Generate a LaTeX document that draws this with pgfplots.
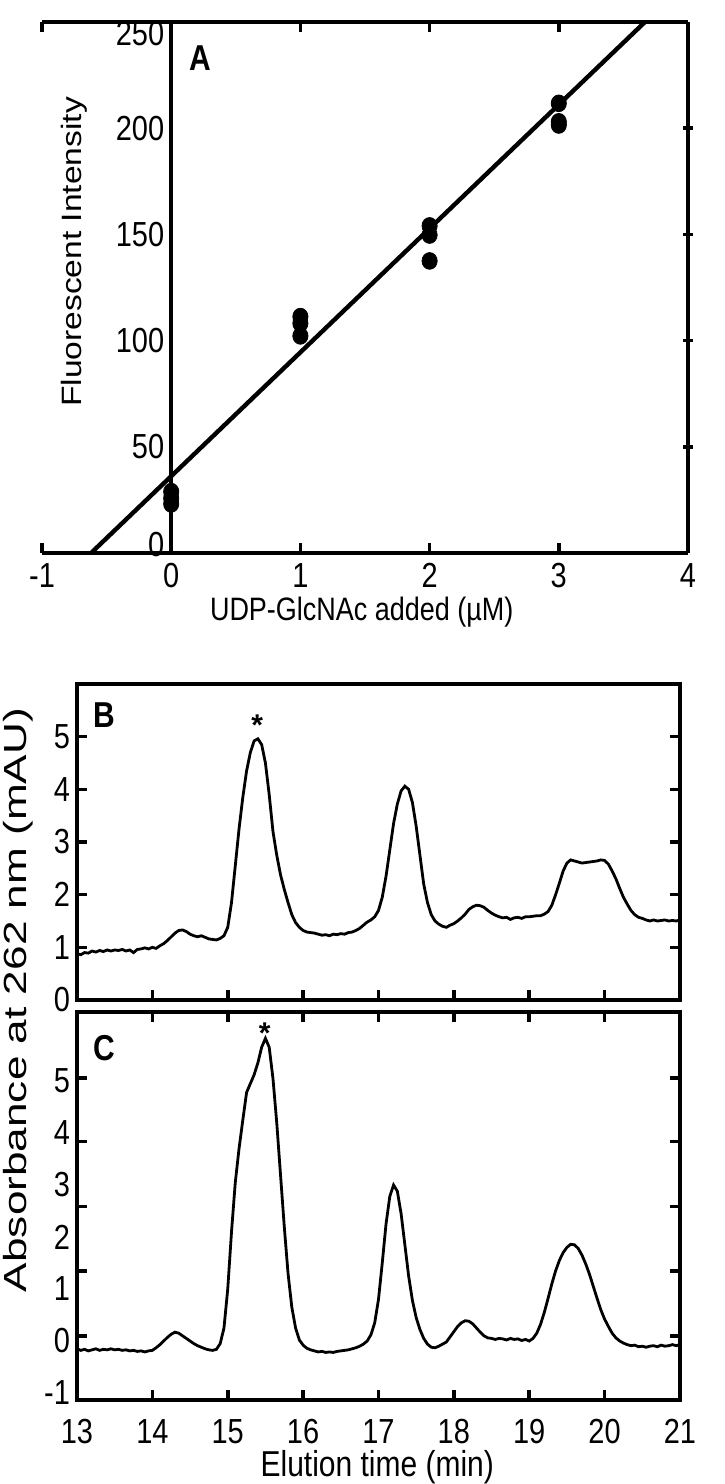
\documentclass[border=0pt]{standalone}
\usepackage{fontspec}
\setmainfont{Liberation Sans}
\newfontfamily\tallfont[FakeStretch=0.833]{Liberation Sans}
\usepackage{pgfplots}
\usepackage{pgfplotstable}
\pgfplotsset{compat=1.18}

\pgfplotstableread{
x y
0 28.9
0 25.8
0 23.1
1 111.3
1 108.1
1 102.2
2 154.0
2 149.7
2 137.5
3 211.7
3 203.0
3 201.5
}\pointsA

\pgfplotstableread{
x y
13.00 0.88
13.05 0.86
13.10 0.90
13.15 0.89
13.20 0.93
13.25 0.91
13.30 0.94
13.35 0.92
13.40 0.95
13.45 0.93
13.50 0.95
13.55 0.94
13.60 0.96
13.65 0.93
13.70 0.95
13.75 0.90
13.80 0.96
13.85 0.97
13.90 0.99
13.95 0.97
14.00 1.00
14.05 0.98
14.10 1.03
14.15 1.07
14.20 1.13
14.25 1.20
14.30 1.27
14.35 1.32
14.40 1.33
14.45 1.30
14.50 1.25
14.55 1.22
14.60 1.20
14.65 1.22
14.70 1.19
14.75 1.16
14.80 1.15
14.85 1.14
14.90 1.17
14.95 1.22
15.00 1.38
15.05 1.85
15.10 2.55
15.15 3.25
15.20 3.85
15.25 4.35
15.30 4.70
15.35 4.92
15.40 4.96
15.45 4.85
15.50 4.50
15.55 3.90
15.60 3.20
15.65 2.75
15.70 2.38
15.75 2.10
15.80 1.85
15.85 1.62
15.90 1.47
15.95 1.38
16.00 1.32
16.05 1.29
16.10 1.28
16.15 1.27
16.20 1.25
16.25 1.23
16.30 1.24
16.35 1.22
16.40 1.25
16.45 1.24
16.50 1.26
16.55 1.25
16.60 1.28
16.65 1.29
16.70 1.32
16.75 1.36
16.80 1.42
16.85 1.48
16.90 1.52
16.95 1.58
17.00 1.70
17.05 1.95
17.10 2.35
17.15 2.85
17.20 3.35
17.25 3.72
17.30 3.97
17.35 4.06
17.40 4.00
17.45 3.75
17.50 3.30
17.55 2.75
17.60 2.20
17.65 1.85
17.70 1.62
17.75 1.50
17.80 1.44
17.85 1.40
17.90 1.38
17.95 1.42
18.00 1.45
18.05 1.50
18.10 1.56
18.15 1.63
18.20 1.72
18.25 1.77
18.30 1.80
18.35 1.79
18.40 1.76
18.45 1.70
18.50 1.65
18.55 1.61
18.60 1.58
18.65 1.56
18.70 1.57
18.75 1.53
18.80 1.56
18.85 1.57
18.90 1.55
18.95 1.58
19.00 1.58
19.05 1.59
19.10 1.60
19.15 1.60
19.20 1.63
19.25 1.68
19.30 1.80
19.35 2.00
19.40 2.22
19.45 2.45
19.50 2.60
19.55 2.66
19.60 2.64
19.65 2.62
19.70 2.60
19.75 2.61
19.80 2.62
19.85 2.63
19.90 2.64
19.95 2.66
20.00 2.65
20.05 2.58
20.10 2.45
20.15 2.30
20.20 2.12
20.25 1.95
20.30 1.82
20.35 1.70
20.40 1.62
20.45 1.57
20.50 1.55
20.55 1.52
20.60 1.50
20.65 1.52
20.70 1.50
20.75 1.51
20.80 1.52
20.85 1.50
20.90 1.51
20.95 1.50
21.00 1.52
}\traceB

\pgfplotstableread{
x y
13.00 -0.15
13.05 -0.18
13.10 -0.16
13.15 -0.19
13.20 -0.17
13.25 -0.15
13.30 -0.18
13.35 -0.16
13.40 -0.17
13.45 -0.15
13.50 -0.17
13.55 -0.16
13.60 -0.18
13.65 -0.17
13.70 -0.19
13.75 -0.18
13.80 -0.20
13.85 -0.19
13.90 -0.21
13.95 -0.19
14.00 -0.18
14.05 -0.13
14.10 -0.07
14.15 0.00
14.20 0.07
14.25 0.13
14.30 0.17
14.35 0.15
14.40 0.10
14.45 0.05
14.50 0.00
14.55 -0.05
14.60 -0.09
14.65 -0.12
14.70 -0.15
14.75 -0.17
14.80 -0.18
14.85 -0.16
14.90 -0.05
14.95 0.25
15.00 1.00
15.05 2.10
15.10 3.05
15.15 3.70
15.20 4.25
15.25 4.78
15.30 4.95
15.35 5.12
15.40 5.35
15.45 5.65
15.50 5.82
15.55 5.65
15.60 5.05
15.65 4.20
15.70 3.20
15.75 2.20
15.80 1.30
15.85 0.65
15.90 0.25
15.95 0.02
16.00 -0.08
16.05 -0.14
16.10 -0.17
16.15 -0.19
16.20 -0.21
16.25 -0.20
16.30 -0.22
16.35 -0.21
16.40 -0.22
16.45 -0.20
16.50 -0.19
16.55 -0.18
16.60 -0.17
16.65 -0.15
16.70 -0.13
16.75 -0.10
16.80 -0.06
16.85 0.00
16.90 0.12
16.95 0.35
17.00 0.80
17.05 1.50
17.10 2.25
17.15 2.78
17.20 3.00
17.25 2.88
17.30 2.45
17.35 1.85
17.40 1.25
17.45 0.78
17.50 0.45
17.55 0.22
17.60 0.05
17.65 -0.06
17.70 -0.12
17.75 -0.13
17.80 -0.10
17.85 -0.06
17.90 -0.02
17.95 0.08
18.00 0.18
18.05 0.28
18.10 0.35
18.15 0.39
18.20 0.38
18.25 0.33
18.30 0.25
18.35 0.17
18.40 0.10
18.45 0.06
18.50 0.05
18.55 0.03
18.60 0.05
18.65 0.04
18.70 0.02
18.75 0.05
18.80 0.03
18.85 0.04
18.90 0.01
18.95 0.03
19.00 0.00
19.05 0.05
19.10 0.15
19.15 0.32
19.20 0.55
19.25 0.82
19.30 1.10
19.35 1.35
19.40 1.55
19.45 1.70
19.50 1.80
19.55 1.86
19.60 1.85
19.65 1.78
19.70 1.65
19.75 1.48
19.80 1.28
19.85 1.05
19.90 0.82
19.95 0.60
20.00 0.42
20.05 0.28
20.10 0.15
20.15 0.06
20.20 0.00
20.25 -0.04
20.30 -0.07
20.35 -0.09
20.40 -0.08
20.45 -0.11
20.50 -0.10
20.55 -0.12
20.60 -0.10
20.65 -0.09
20.70 -0.11
20.75 -0.08
20.80 -0.10
20.85 -0.09
20.90 -0.07
20.95 -0.09
21.00 -0.07
}\traceC

\pgfplotsset{
  common/.style={
    scale only axis, anchor=south west,
    tick align=inside, major tick length=5pt,
    axis line style={-, line width=1.8pt},
    every outer x axis line/.append style={-},
    every outer y axis line/.append style={-},
    every inner x axis line/.append style={-},
    every inner y axis line/.append style={-},
    tick style={line width=1.8pt, black},
    /pgf/number format/assume math mode=true,
    ticklabel style={font=\tallfont\fontsize{17.4}{18}\selectfont},
  },
}

\begin{document}
\begin{tikzpicture}
\useasboundingbox (0,0) rectangle (362pt,742pt);

% ---------- Panel A : frame, x axis, right axis, data ----------
\begin{axis}[common,
  at={(21pt,465.5pt)}, width=323pt, height=265.5pt,
  xmin=-1, xmax=4, ymin=0, ymax=250,
  axis x line=box, axis y line=right,
  y axis line style={-},
  xtick={-1,0,1,2,3,4}, xtick pos=both, xticklabel pos=bottom,
  ytick={50,100,150,200}, yticklabels={},
  xticklabel style={yshift=-1.5pt},
  xlabel={UDP-GlcNAc added (µM)},
  every axis x label/.style={at={(axis description cs:0.495,-0.111)}, anchor=center, font=\tallfont\fontsize{16.2}{17}\selectfont},
]
\addplot[line width=2.2pt] coordinates {(-0.62,0) (3.667,250)};
\addplot[only marks, mark=*, mark size=3.8pt, mark options={yscale=1.1}] table {\pointsA};
\end{axis}

% ---------- Panel A : y axis at x = 0 with labels ----------
\begin{axis}[common,
  at={(21pt,465.5pt)}, width=323pt, height=265.5pt,
  xmin=-1, xmax=4, ymin=0, ymax=250,
  axis x line=none, axis y line=middle,
  y axis line style={-, line width=1.8pt},
  major tick length=0pt,
  ytick={0,50,100,150,200,250},
  yticklabels={{\raisebox{0pt}[\height][\dimexpr\depth+8pt\relax]{0}},50,100,150,200,{\raisebox{0pt}[\dimexpr\height+12pt\relax][\depth]{250}}},
  yticklabel style={anchor=east},
  ylabel={\scalebox{1.2}[1]{Fluorescent Intensity}},
  every axis y label/.style={at={(axis description cs:0.0495,0.567)}, rotate=90, anchor=center, font=\fontsize{14}{14}\selectfont},
]
\node[font=\tallfont\bfseries\fontsize{18}{18}\selectfont] at (axis description cs:0.2446,0.932) {A};
\end{axis}

% ---------- Panel B ----------
\begin{axis}[common,
  at={(38.5pt,242pt)}, width=301.5pt, height=158pt,
  xmin=13, xmax=21, ymin=0, ymax=6,
  xtick={14,...,20}, xtick pos=bottom, xticklabels={},
  ytick={0,...,5}, ytick pos=both, yticklabel pos=left,
]
\addplot[line width=1.4pt] table {\traceB};
\node[font=\tallfont\bfseries\fontsize{18}{18}\selectfont] at (axis description cs:0.046,0.902) {B};
\node[font=\bfseries\fontsize{15}{15}\selectfont, anchor=base] at (axis cs:15.39,5.02) {*};
\end{axis}

% ---------- Panel C : frame, ticks, data ----------
\begin{axis}[common,
  at={(38.5pt,42pt)}, width=301.5pt, height=194pt,
  xmin=13, xmax=21, ymin=-1.1346, ymax=6.327,
  xtick={13,...,21}, xtick pos=both, xticklabel pos=bottom,
  xticklabel style={yshift=-6pt},
  ytick={0.096,1.346,2.587,3.833,5.063}, yticklabels={}, ytick pos=both,
  xlabel={Elution time (min)},
  every axis x label/.style={at={(axis description cs:0.498,-0.172)}, anchor=center, font=\tallfont\fontsize{18}{18}\selectfont},
  ylabel={\scalebox{1.38}[1]{Absorbance at 262 nm (mAU)}},
  every axis y label/.style={at={(axis description cs:-0.0977,1.031)}, rotate=90, anchor=center, font=\fontsize{16}{16}\selectfont},
]
\addplot[line width=1.4pt] table {\traceC};
\node[font=\tallfont\bfseries\fontsize{18}{18}\selectfont] at (axis description cs:0.046,0.907) {C};
\node[font=\bfseries\fontsize{15}{15}\selectfont, anchor=base] at (axis cs:15.49,5.72) {*};
\end{axis}

% ---------- Panel C : y tick labels ----------
\begin{axis}[common,
  at={(38.5pt,42pt)}, width=301.5pt, height=194pt,
  xmin=13, xmax=21, ymin=-1.1346, ymax=6.327,
  hide x axis, axis y line*=left, y axis line style={draw=none},
  major tick length=0pt,
  ytick={-1,0,1,2,3,4,5},
]
\end{axis}
\end{tikzpicture}
\end{document}
